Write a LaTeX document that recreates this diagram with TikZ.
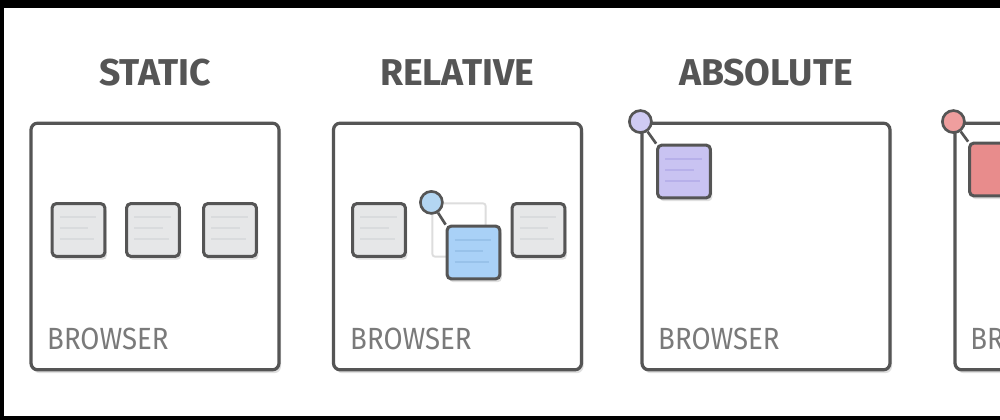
\documentclass[tikz,border=0pt]{standalone}
\usepackage{fontspec}
\setmainfont{Fira Sans}
\usetikzlibrary{shadows}
\definecolor{ink}{HTML}{555555}
\definecolor{labelgray}{HTML}{7A7A7A}
\definecolor{boxgray}{HTML}{E6E7E8}
\definecolor{linegray}{HTML}{D9DBDD}
\definecolor{ghost}{HTML}{DDDDDD}
\definecolor{bluefill}{HTML}{A9D1F7}
\definecolor{blueline}{HTML}{98C2EA}
\definecolor{bluecirc}{HTML}{B3D6F2}
\definecolor{purplefill}{HTML}{C9C3F2}
\definecolor{purpleline}{HTML}{B7B0EA}
\definecolor{purplecirc}{HTML}{CFCBF3}
\definecolor{redfill}{HTML}{E88C8C}
\definecolor{redcirc}{HTML}{EF9E9E}
\begin{document}
\begin{tikzpicture}[x=0.75pt,y=-0.75pt,
  softshadow/.style={drop shadow={shadow xshift=1.5pt,shadow yshift=-2.5pt,opacity=0.12,fill=black}},
  browserbox/.style={draw=ink,line width=2.4pt,rounded corners=5pt,fill=white,
    minimum width=186pt,minimum height=185pt,inner sep=0pt,softshadow},
  title/.style={font=\fontsize{28}{30}\selectfont\bfseries,text=ink},
  browserlabel/.style={font=\fontsize{23}{25}\selectfont,text=labelgray,anchor=base west,inner sep=0pt,xscale=0.9},
  elem/.style={draw=ink,line width=2.3pt,rounded corners=3pt,minimum width=39.5pt,minimum height=39.5pt,inner sep=0pt,softshadow},
  grayelem/.style={elem,fill=boxgray},
  ghostelem/.style={draw=ghost,line width=1.4pt,rounded corners=2pt,minimum width=40pt,minimum height=40pt,inner sep=0pt},
  handle/.style={circle,draw=ink,line width=2pt,minimum size=16.5pt,inner sep=0pt},
  link/.style={draw=ink,line width=2pt},
  txtline/.style={draw=linegray,line width=1.5pt}
]
\useasboundingbox (0,0) rectangle (1000,420);
\clip (0,0) rectangle (1000,420);
\fill[white] (0,0) rectangle (1000,420);
% frame
\fill[black] (0,0) rectangle (1000,8);
\fill[black] (0,0) rectangle (4,420);
\fill[black] (0,416) rectangle (1000,420);

% titles
\node[title] (t1) at (155,73) {STATIC};
\node[title] (t2) at (457,73) {RELATIVE};
\node[title] (t3) at (766,73) {ABSOLUTE};

% browser boxes
\node[browserbox] (b1) at (155,246.5) {};
\node[browserbox] (b2) at (457.5,246.5) {};
\node[browserbox] (b3) at (766,246.5) {};
\node[browserbox] (b4) at (1079,246.5) {};

\node[browserlabel] (l1) at (47,350) {BROWSER};
\node[browserlabel] (l2) at (350,350) {BROWSER};
\node[browserlabel] (l3) at (658,350) {BROWSER};
\node[browserlabel] (l4) at (970,350) {BROWSER};

% static elements
\node[grayelem] (s1) at (78.5,230) {};
\node[grayelem] (s2) at (153,230) {};
\node[grayelem] (s3) at (230,230) {};
% relative elements
\node[grayelem] (r1) at (379,230) {};
\node[ghostelem] (rg) at (459,230) {};
\node[elem,fill=bluefill] (r2) at (473.5,252.5) {};
\node[grayelem] (r3) at (538.5,230) {};
\node[handle,fill=bluecirc] (rh) at (rg.north west) {};
\draw[link] (rh) -- (r2.north west);
% absolute element
\node[elem,fill=purplefill] (a1) at (684,171.5) {};
\node[handle,fill=purplecirc] (ah) at (b3.north west) {};
\draw[link] (ah) -- (a1.north west);
% fixed element
\node[elem,fill=redfill] (f1) at (996,169.5) {};
\node[handle,fill=redcirc] (fh) at (b4.north west) {};
\draw[link] (fh) -- (f1.north west);

% faint text lines inside the elements
\foreach \n/\c in {s1/linegray,s2/linegray,s3/linegray,r1/linegray,r3/linegray,r2/blueline,a1/purpleline}{
  \draw[txtline,draw=\c] ([shift={(9,15)}]\n.north west) -- ([shift={(-10,15)}]\n.north east);
  \draw[txtline,draw=\c] ([shift={(9,26)}]\n.north west) -- ([shift={(-18,26)}]\n.north east);
  \draw[txtline,draw=\c] ([shift={(9,37)}]\n.north west) -- ([shift={(-12,37)}]\n.north east);
}
\end{tikzpicture}
\end{document}
